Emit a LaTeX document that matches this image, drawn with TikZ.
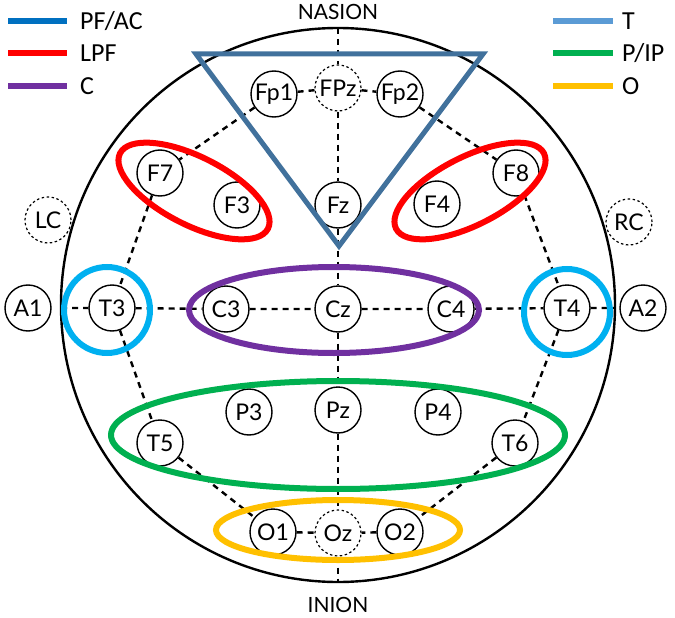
\documentclass[tikz,border=0pt]{standalone}
\usepackage{fontspec}
\setmainfont{Lato}
\newfontfamily\legfont{Carlito}
\definecolor{pfac}{RGB}{0,112,192}
\definecolor{lpf}{RGB}{255,0,0}
\definecolor{cc}{RGB}{112,48,160}
\definecolor{tt}{RGB}{91,155,213}
\definecolor{pip}{RGB}{0,176,80}
\definecolor{oo}{RGB}{255,192,0}
\definecolor{tri}{RGB}{65,113,156}
\definecolor{cyanc}{RGB}{0,176,240}
\begin{document}
\begin{tikzpicture}[x=1pt,y=-1pt,
  elec/.style={circle,draw,line width=1.4pt,minimum size=46pt,inner sep=0pt,font=\fontsize{23}{23}\selectfont},
  elecd/.style={elec,dash pattern=on 2.5pt off 2.5pt,line width=1.2pt},
  gridl/.style={line width=2.4pt,dash pattern=on 6pt off 5pt},
  region/.style={line width=6pt},
  legline/.style={line width=6pt},
  legtext/.style={anchor=west,font=\legfont\fontsize{26}{26}\selectfont,inner sep=0pt},
  landmark/.style={font=\fontsize{21}{21}\selectfont,inner sep=0pt}]
\useasboundingbox (0,0) rectangle (675,618);
% head
\node (head) at (338,305) [circle,draw,line width=2.4pt,minimum size=554pt,inner sep=0pt] {};
\coordinate (top) at (338,28);
\coordinate (bot) at (338,582);
\coordinate (lft) at (61,308);
\coordinate (rgt) at (615,308);
% electrodes
\node[elec]  (Fp1) at (274,94) {Fp1};
\node[elecd] (FPz) at (338,88) {FPz};
\node[elec]  (Fp2) at (400,94) {Fp2};
\node[elec]  (F7) at (160,173) {F7};
\node[elec]  (F3) at (237,205) {F3};
\node[elec]  (Fz) at (338,205) {Fz};
\node[elec]  (F4) at (437,204) {F4};
\node[elec]  (F8) at (516,173) {F8};
\node[elecd] (LC) at (48,220) {LC};
\node[elecd] (RC) at (629,222) {RC};
\node[elec]  (A1) at (28,308) {A1};
\node[elec]  (T3) at (112,308) {T3};
\node[elec]  (C3) at (226,309) {C3};
\node[elec]  (Cz) at (338,309) {Cz};
\node[elec]  (C4) at (451,309) {C4};
\node[elec]  (T4) at (567,308) {T4};
\node[elec]  (A2) at (643,308) {A2};
\node[elec]  (T5) at (160,443) {T5};
\node[elec]  (P3) at (249,412) {P3};
\node[elec]  (Pz) at (338,410) {Pz};
\node[elec]  (P4) at (438,412) {P4};
\node[elec]  (T6) at (515,443) {T6};
\node[elec]  (O1) at (273,532) {O1};
\node[elecd] (Oz) at (338,533) {Oz};
\node[elec]  (O2) at (400,532) {O2};
% grid lines
\draw[gridl] (top) -- (FPz) -- (Fz) -- (Cz) -- (Pz) -- (Oz) -- (bot);
\draw[gridl] (lft) -- (T3) -- (C3) -- (Cz) -- (C4) -- (T4) -- (rgt);
\draw[gridl] (FPz) -- (Fp1) -- (F7) -- (T3) -- (T5) -- (O1) -- (Oz);
\draw[gridl] (FPz) -- (Fp2) -- (F8) -- (T4) -- (T6) -- (O2) -- (Oz);
% regions
\draw[lpf,region,rotate around={-27:(194,191)}] (194,191) ellipse [x radius=83, y radius=34];
\draw[lpf,region,rotate around={27:(470,191)}] (470,191) ellipse [x radius=83, y radius=34];
\draw[cc,region] (334,310) ellipse [x radius=145, y radius=43];
\draw[pip,region] (338,435) ellipse [x radius=227, y radius=54];
\draw[oo,region] (338,530) ellipse [x radius=122, y radius=30];
\draw[cyanc,region] (107,310) circle [radius=43];
\draw[cyanc,region] (567,312) circle [radius=43];
\draw[tri,line width=5pt,line join=miter] (196,54) -- (483,54) -- (339,246) -- cycle;
% landmarks
\node[landmark] (nasion) at (338,12) {NASION};
\node[landmark] (inion) at (338,605) {INION};
% legend
\draw[pfac,legline] (8,21) -- (67,21);
\draw[lpf,legline] (8,53) -- (67,53);
\draw[cc,legline] (8,86) -- (67,86);
\node[legtext] (l1) at (80,21) {PF/AC};
\node[legtext] (l2) at (80,53) {LPF};
\node[legtext] (l3) at (80,86) {C};
\draw[tt,legline] (553,21) -- (613,21);
\draw[pip,legline] (553,53) -- (613,53);
\draw[oo,legline] (553,86) -- (613,86);
\node[legtext] (r1) at (622,21) {T};
\node[legtext] (r2) at (622,53) {P/IP};
\node[legtext] (r3) at (622,86) {O};
\end{tikzpicture}
\end{document}
